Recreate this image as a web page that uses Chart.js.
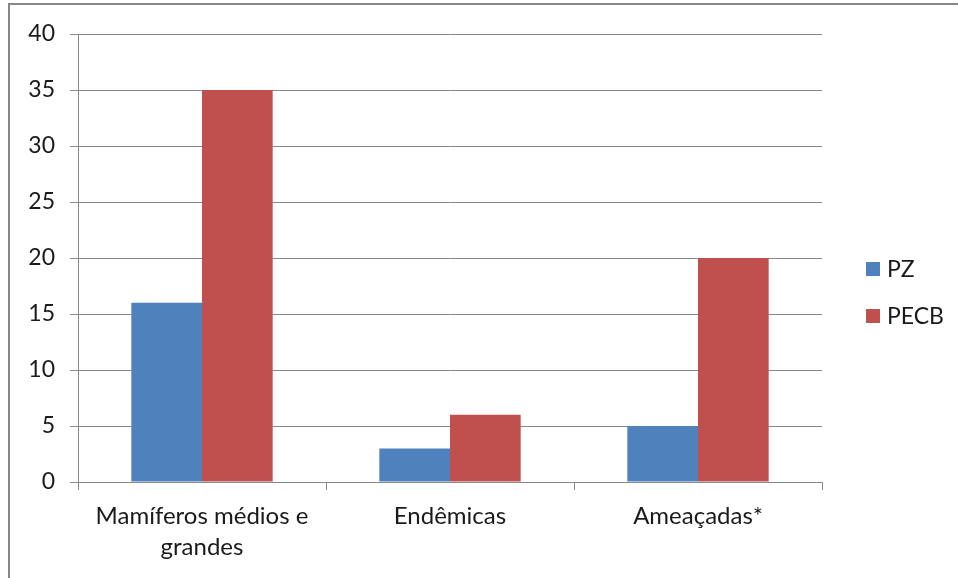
<!DOCTYPE html>
<html>
<head>
<meta charset="utf-8">
<script src="https://cdn.jsdelivr.net/npm/chart.js@4/dist/chart.umd.min.js"></script>
<style>
  html, body { margin: 0; padding: 0; background: #fff; }
  #wrap { position: relative; width: 958px; height: 578px; overflow: hidden; }
  #frame { position: absolute; left: 8px; top: 3px; right: -10px; bottom: -10px;
           border-top: 2px solid #878787; border-left: 2px solid #878787; pointer-events: none; }
</style>
</head>
<body>
<div id="wrap">
  <canvas id="speciesChart" width="958" height="578"></canvas>
  <div id="frame"></div>
</div>
<script>
// data
const categories = [["Mamíferos médios e", "grandes"], "Endêmicas", "Ameaçadas*"];
const seriesNames = ["PZ", "PECB"];
const pzValues = [16, 3, 5];
const pecbValues = [35, 6, 20];
const yTicks = [0, 5, 10, 15, 20, 25, 30, 35, 40];

const colors = ["#4F81BD", "#C0504D"];
const textColor = "#1a1a1a";
const lineColor = "#888888";
const fontFamily = "Lato, 'Open Sans', sans-serif";

// legend drawn on the right side, Excel style
const sideLegend = {
    id: "sideLegend",
    afterDraw(chart) {
        const ctx = chart.ctx;
        ctx.save();
        ctx.font = "23px " + fontFamily;
        ctx.textBaseline = "middle";
        chart.data.datasets.forEach((ds, i) => {
            const y = 269 + i * 47;
            ctx.fillStyle = ds.backgroundColor;
            ctx.fillRect(866, y - 7, 14, 14);
            ctx.fillStyle = textColor;
            ctx.fillText(ds.label, 887, y + 1);
        });
        ctx.restore();
    }
};

const ctx = document.getElementById("speciesChart").getContext("2d");
new Chart(ctx, {
    type: "bar",
    data: {
        labels: categories,
        datasets: [
            { label: seriesNames[0], data: pzValues, backgroundColor: colors[0] },
            { label: seriesNames[1], data: pecbValues, backgroundColor: colors[1] },
        ],
    },
    options: {
        responsive: false,
        animation: false,
        layout: { padding: { top: 34, right: 136, left: 0, bottom: 0 } },
        datasets: { bar: { categoryPercentage: 0.57, barPercentage: 1.0, borderWidth: 0 } },
        plugins: { legend: { display: false }, tooltip: { enabled: false } },
        scales: {
            x: {
                grid: { offset: true, drawOnChartArea: false, drawTicks: true, tickLength: 8, color: lineColor },
                border: { color: lineColor, width: 1 },
                ticks: {
                    color: textColor, padding: 11, maxRotation: 0, autoSkip: false,
                    font: { family: fontFamily, size: 24, lineHeight: 31 / 24 },
                },
                afterFit(scale) { scale.height = 96; },
            },
            y: {
                min: 0,
                max: 40,
                afterBuildTicks(scale) { scale.ticks = yTicks.map(v => ({ value: v })); },
                grid: { color: lineColor, tickLength: 8, drawTicks: true },
                border: { color: lineColor, width: 1 },
                ticks: {
                    color: textColor, padding: 15,
                    font: { family: fontFamily, size: 23 },
                },
                afterFit(scale) { scale.width = 78; },
            },
        },
    },
    plugins: [sideLegend],
});
</script>
</body>
</html>
